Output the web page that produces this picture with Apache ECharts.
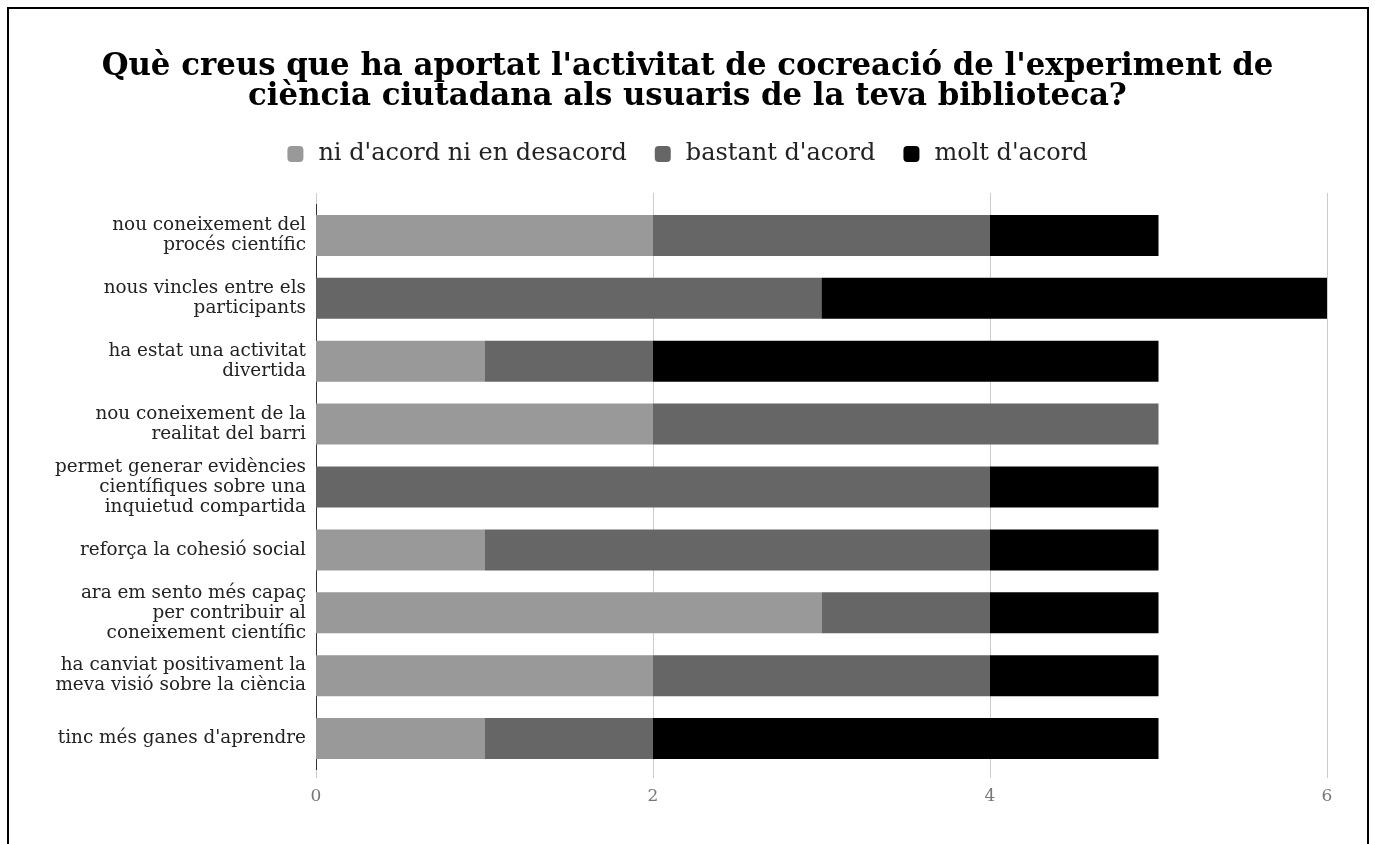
<!DOCTYPE html>
<html>
<head>
<meta charset="utf-8">
<script src="https://cdn.jsdelivr.net/npm/echarts@6/dist/echarts.min.js"></script>
<style>
html,body{margin:0;padding:0;width:1375px;height:844px;overflow:hidden;background:#fff;}
#frame{position:absolute;left:7px;top:7px;width:1362px;height:860px;border:2px solid #000;box-sizing:border-box;}
#chart{position:absolute;left:0;top:0;width:1375px;height:844px;}
</style>
</head>
<body>
<div id="frame"></div>
<div id="chart"></div>
<script>
const titleText = "Què creus que ha aportat l'activitat de cocreació de l'experiment de\nciència ciutadana als usuaris de la teva biblioteca?";
const categories = [
  "nou coneixement del\nprocés científic",
  "nous vincles entre els\nparticipants",
  "ha estat una activitat\ndivertida",
  "nou coneixement de la\nrealitat del barri",
  "permet generar evidències\ncientífiques sobre una\ninquietud compartida",
  "reforça la cohesió social",
  "ara em sento més capaç\nper contribuir al\nconeixement científic",
  "ha canviat positivament la\nmeva visió sobre la ciència",
  "tinc més ganes d'aprendre"
];
const seriesNames = ["ni d'acord ni en desacord", "bastant d'acord", "molt d'acord"];
const niAcord = [2, 0, 1, 2, 0, 1, 3, 2, 1];
const bastant = [2, 3, 1, 3, 4, 3, 1, 2, 1];
const molt    = [1, 3, 3, 0, 1, 1, 1, 1, 3];
const xTicks = [0, 2, 4, 6];

const colors = ['#999999', '#666666', '#000000'];
const serif = "'DejaVu Serif', serif";
const chart = echarts.init(document.getElementById('chart'));
const dataSets = [niAcord, bastant, molt];
chart.setOption({
  animation: false,
  title: {
    text: titleText, left: 'center', top: 52, padding: 0,
    textStyle: {fontFamily: serif, fontWeight: 'bold', fontSize: 30.8, lineHeight: 30, color: '#000'}
  },
  legend: {
    top: 142, left: 'center', padding: 0, itemWidth: 16, itemHeight: 16, itemGap: 28,
    icon: 'roundRect',
    textStyle: {fontFamily: serif, fontSize: 24, color: '#222', padding: [0, 0, 0, 10]},
    data: seriesNames
  },
  grid: {left: 316, right: 48, top: 204, bottom: 74, containLabel: false},
  xAxis: [{
    type: 'value', min: xTicks[0], max: xTicks[xTicks.length-1], interval: 2,
    axisLine: {show: false},
    axisTick: {show: true, length: 8, lineStyle: {color: '#cccccc'}},
    splitLine: {show: true, lineStyle: {color: ['#333333', '#cccccc', '#cccccc', '#cccccc']}},
    axisLabel: {fontFamily: serif, fontSize: 17, color: '#777', margin: 18}
  },{
    type: 'value', position: 'top', min: xTicks[0], max: xTicks[xTicks.length-1], interval: 2,
    axisLine: {show: false},
    axisTick: {show: true, length: 11, lineStyle: {color: '#cccccc'}},
    splitLine: {show: false},
    axisLabel: {show: false}
  }],
  yAxis: {
    type: 'category', inverse: true, data: categories,
    axisLine: {show: true, lineStyle: {color: '#333', width: 1}},
    axisTick: {show: false},
    axisLabel: {fontFamily: serif, fontSize: 18.4, lineHeight: 20, color: '#222', margin: 10, align: 'right'}
  },
  series: seriesNames.map((n, i) => ({
    name: n, type: 'bar', stack: 'total', barWidth: 41,
    itemStyle: {color: colors[i]},
    data: dataSets[i]
  }))
});
</script>
</body>
</html>
